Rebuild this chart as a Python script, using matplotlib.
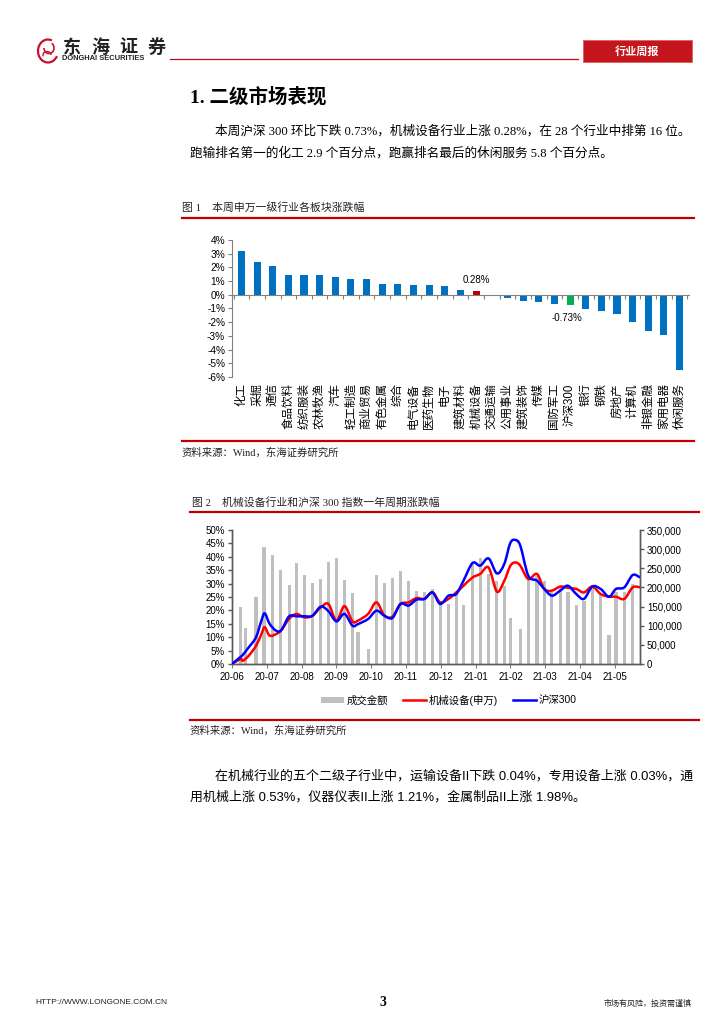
import numpy as np
import matplotlib
matplotlib.use('Agg')
import matplotlib.pyplot as plt
from matplotlib.path import Path
from matplotlib.patches import PathPatch, Rectangle, Arc, Patch
from matplotlib.lines import Line2D

# ---------------- data ----------------
industries = ['化工', '采掘', '通信', '食品饮料', '纺织服装', '农林牧渔', '汽车', '轻工制造',
              '商业贸易', '有色金属', '综合', '电气设备', '医药生物', '电子', '建筑材料',
              '机械设备', '交通运输', '公用事业', '建筑装饰', '传媒', '国防军工', '沪深300',
              '银行', '钢铁', '房地产', '计算机', '非银金融', '家用电器', '休闲服务']
weekly_change = [3.17, 2.40, 2.08, 1.48, 1.48, 1.43, 1.28, 1.16, 1.16, 0.82, 0.82, 0.70,
                 0.70, 0.63, 0.36, 0.28, -0.10, -0.22, -0.44, -0.56, -0.70, -0.73, -1.07,
                 -1.21, -1.43, -1.96, -2.67, -2.93, -5.52]

month_labels = ['20-06', '20-07', '20-08', '20-09', '20-10', '20-11', '20-12',
                '21-01', '21-02', '21-03', '21-04', '21-05']
# bar positions in months after 20-06
bar_x = [0.25, 0.39, 0.69, 0.92, 1.16, 1.40, 1.64, 1.85, 2.08, 2.31, 2.55, 2.77, 3.00,
         3.23, 3.46, 3.62, 3.91, 4.15, 4.38, 4.61, 4.84, 5.07, 5.30, 5.53, 5.76,
         5.98, 6.22, 6.44, 6.65, 6.91, 7.13, 7.37, 7.61, 7.82, 7.99, 8.28, 8.51, 8.76,
         8.97, 9.19, 9.43, 9.65, 9.89, 10.11, 10.35, 10.59, 10.83, 11.03, 11.27, 11.51]
turnover = [149000, 94000, 175000, 306000, 285000, 245000, 206000, 264000, 232000, 211000,
            222000, 266000, 277000, 219000, 185000, 84000, 39000, 232000, 211000, 224000,
            243000, 217000, 190000, 189000, 196000,
            157000, 158000, 182000, 154000, 263000, 276000, 235000, 217000, 203000, 119000,
            91000, 222000, 231000, 217000, 187000, 200000, 187000, 154000, 165000, 203000,
            182000, 77000, 189000, 187000, 210000]

line_x = [0.00, 0.25, 0.31, 0.48, 0.69, 0.84, 0.94, 1.08, 1.27, 1.42, 1.64, 1.85, 2.08,
          2.31, 2.55, 2.77, 3.00, 3.23, 3.46, 3.62, 3.91, 4.15, 4.38, 4.61, 4.84, 5.07,
          5.30, 5.53, 5.76,
          5.98, 6.22, 6.44, 6.65, 6.91, 7.13, 7.37, 7.61, 7.82, 7.99, 8.13, 8.28, 8.51,
          8.76, 8.97, 9.19, 9.43, 9.65, 9.89, 10.11, 10.35, 10.59, 10.83, 11.03, 11.27,
          11.51, 11.72]
machinery = [0.0, 1.9, 1.2, 3.1, 6.8, 11.0, 13.7, 10.6, 11.2, 12.7, 16.8, 18.7, 17.4,
             18.0, 21.1, 22.4, 16.2, 21.6, 15.9, 16.2, 18.7, 23.0, 18.0, 17.7, 22.4, 23.0,
             24.6, 24.3, 26.7,
             23.0, 24.3, 26.7, 29.2, 32.3, 33.6, 36.0, 27.0, 31.0, 36.5, 37.9, 36.7, 31.7,
             33.6, 28.0, 27.4, 28.9, 28.4, 28.0, 26.7, 28.9, 26.1, 25.1, 25.1, 24.3, 28.6,
             28.6]
hs300 = [0.0, 2.7, 3.4, 6.2, 10.0, 16.0, 18.9, 15.0, 12.4, 12.7, 17.8, 17.8, 17.8,
         18.0, 21.4, 19.7, 15.9, 18.7, 14.3, 14.9, 16.8, 19.9, 18.0, 17.2, 22.4, 21.8,
         24.0, 24.3, 26.7,
         22.4, 25.5, 26.1, 31.1, 37.7, 36.7, 39.4, 33.8, 37.3, 45.0, 46.3, 44.2, 33.0,
         31.1, 28.0, 25.5, 27.4, 29.2, 26.1, 24.3, 28.9, 28.0, 25.1, 28.0, 28.6, 33.2,
         32.3]

# ---------------- figure ----------------
W, H = 724, 1024
fig = plt.figure(figsize=(7.24, 10.24), dpi=100)
CJK = 'Noto Sans CJK SC'
SERIF_CJK = ['Liberation Serif', CJK]
SANS_CJK = ['Liberation Sans', CJK]
RED = '#C00000'


def fx(x):
    return x / W


def fy(y):
    return 1 - y / H


def ftext(x, y, s, **kw):
    kw.setdefault('va', 'center')
    return fig.text(fx(x), fy(y), s, **kw)


def fline(x0, x1, y, color=RED, lw=1.5):
    fig.add_artist(Line2D([fx(x0), fx(x1)], [fy(y), fy(y)], transform=fig.transFigure,
                          color=color, lw=lw))


# ---------------- header ----------------
logo = fig.add_axes([fx(36), fy(64), 24 / W, 28 / H])
logo.set_xlim(-1.2, 1.2)
logo.set_ylim(-1.4, 1.4)
logo.axis('off')
logo.add_patch(Arc((0, -0.1), 2.0, 2.3, theta1=70, theta2=330, color='#C8102E', lw=1.6))
logo.add_patch(Arc((0.1, 0.2), 1.0, 1.1, theta1=180, theta2=420, color='#C8102E', lw=1.2))
logo.add_patch(Arc((-0.1, -0.5), 0.8, 0.7, theta1=0, theta2=200, color='#C8102E', lw=1.0))

for i, ch in enumerate('东海证券'):
    ftext(72 + i * 28, 47, ch, family=CJK, fontsize=13, fontweight='bold',
          color='#222222', ha='center')
ftext(62, 59, 'DONGHAI SECURITIES', family='Liberation Sans', fontsize=5.4,
      fontweight='bold', color='#222222', ha='left')
fline(170, 578, 59, color='#B01020', lw=0.9)
fig.add_artist(Rectangle((fx(583), fy(62)), 109 / W, 22 / H, transform=fig.transFigure,
                         facecolor='#C4161C', edgecolor='#E06060', lw=0.6))
ftext(637.5, 51, '行业周报', family=CJK, fontsize=8, fontweight='bold', color='white',
      ha='center')

# ---------------- title & paragraph 1 ----------------
ftext(190, 97, '1. 二级市场表现', family=SERIF_CJK, fontsize=14, fontweight='bold',
      ha='left')


def fitted_lines(x1, y1, s1, x2, y2, s2, right, family, base=9):
    t1 = ftext(x1, y1, s1, family=family, fontsize=base, ha='left')
    fig.canvas.draw()
    w = t1.get_window_extent().width
    size = base * (right - x1) / w
    t1.set_fontsize(size)
    ftext(x2, y2, s2, family=family, fontsize=size, ha='left')


fitted_lines(215, 131, '本周沪深 300 环比下跌 0.73%，机械设备行业上涨 0.28%，在 28 个行业中排第 16 位。',
             190, 153, '跑输排名第一的化工 2.9 个百分点，跑赢排名最后的休闲服务 5.8 个百分点。',
             692, SERIF_CJK)

# ---------------- chart 1 ----------------
ftext(182, 208, '图 1    本周申万一级行业各板块涨跌幅', family=SERIF_CJK, fontsize=7.8,
      ha='left', color='#222222')
fline(182, 694, 218, lw=1.6)

ax1 = fig.add_axes([fx(232), fy(377), (689 - 232) / W, (377 - 240) / H])
colors = ['#0070C0'] * len(industries)
colors[industries.index('机械设备')] = RED
colors[industries.index('沪深300')] = '#00B050'
xs = np.arange(len(industries))
ax1.bar(xs, weekly_change, width=0.45, color=colors, zorder=2)
ax1.set_xlim(-0.6, len(industries) - 0.4)
ax1.set_ylim(-6, 4)
ax1.set_yticks(range(-6, 5))
ax1.set_yticklabels([f'{v}%' for v in range(-6, 5)], family='Liberation Sans', fontsize=7.3)
for s in ['top', 'right']:
    ax1.spines[s].set_visible(False)
ax1.spines['bottom'].set_position(('data', 0))
ax1.spines['left'].set_color('#808080')
ax1.spines['bottom'].set_color('#808080')
ax1.spines['left'].set_linewidth(0.8)
ax1.spines['bottom'].set_linewidth(0.8)
ax1.tick_params(axis='y', direction='out', length=3, width=0.8, color='#808080', pad=2)
ax1.set_xticks([])
ax1.set_xticks(np.arange(-0.5, len(industries), 1.0), minor=True)
ax1.tick_params(axis='x', which='minor', direction='out', length=3, width=0.8,
                color='#808080', labelbottom=False)
ax1.set_facecolor('none')
for i, name in enumerate(industries):
    ax1.text(i, -0.045, name, transform=ax1.get_xaxis_transform(), rotation=90,
             ha='center', va='top', fontsize=8.3, family=SANS_CJK)
mi = industries.index('机械设备')
ax1.annotate(f'{weekly_change[mi]:.2f}%', (mi, weekly_change[mi]), xytext=(0, 4.5),
             textcoords='offset points', ha='center', va='bottom', fontsize=7,
             family='Liberation Sans')
hi = industries.index('沪深300')
ax1.annotate(f'{weekly_change[hi]:.2f}%', (hi, weekly_change[hi]), xytext=(-2, -6),
             textcoords='offset points', ha='center', va='top', fontsize=7,
             family='Liberation Sans')

fline(182, 694, 441, lw=1.6)
ftext(182, 453, '资料来源：Wind，东海证券研究所', family=SERIF_CJK, fontsize=7.5, ha='left',
      color='#222222')

# ---------------- chart 2 ----------------
ftext(192, 502, '图 2    机械设备行业和沪深 300 指数一年周期涨跌幅', family=SERIF_CJK,
      fontsize=7.8, ha='left', color='#222222')
fline(190, 699, 512, lw=1.6)

ax_b = fig.add_axes([fx(232), fy(664), (640 - 232) / W, (664 - 530) / H])
ax_b.bar(bar_x, turnover, width=0.09, color='#BFBFBF', zorder=1)
ax_b.set_xlim(0, 11.72)
ax_b.set_ylim(0, 350000)
ax_b.set_yticks(range(0, 350001, 50000))
ax_b.set_yticklabels([f'{v:,}' for v in range(0, 350001, 50000)],
                     family='Liberation Sans', fontsize=7)
ax_b.set_xticks(range(len(month_labels)))
ax_b.set_xticklabels(month_labels, family='Liberation Sans', fontsize=7)
ax_b.tick_params(axis='x', direction='out', length=3, width=0.8, color='#808080', pad=3)

ax_l = ax_b.twinx()
ax_l.set_ylim(0, 50)
ax_l.set_yticks(range(0, 51, 5))
ax_l.set_yticklabels([f'{v}%' for v in range(0, 51, 5)], family='Liberation Sans',
                     fontsize=7)
ax_l.yaxis.tick_left()
ax_b.yaxis.tick_right()
for a in (ax_b, ax_l):
    a.spines['top'].set_visible(False)
    for s in ['left', 'right', 'bottom']:
        a.spines[s].set_color('#595959')
        a.spines[s].set_linewidth(1.0)
    a.tick_params(axis='y', direction='out', length=3, width=1.0, color='#595959', pad=2)


def smooth_path(xv, yv):
    pts = np.column_stack([xv, yv]).astype(float)
    n = len(pts)
    verts = [pts[0]]
    codes = [Path.MOVETO]
    for i in range(n - 1):
        p0 = pts[i - 1] if i > 0 else pts[i]
        p1 = pts[i]
        p2 = pts[i + 1]
        p3 = pts[i + 2] if i + 2 < n else pts[i + 1]
        verts += [p1 + (p2 - p0) / 6, p2 - (p3 - p1) / 6, p2]
        codes += [Path.CURVE4] * 3
    return Path(verts, codes)


ax_l.add_patch(PathPatch(smooth_path(line_x, machinery), facecolor='none',
                         edgecolor='#FF0000', lw=1.8, zorder=3))
ax_l.add_patch(PathPatch(smooth_path(line_x, hs300), facecolor='none',
                         edgecolor='#0000FF', lw=1.8, zorder=4))

handles = [Patch(facecolor='#BFBFBF', edgecolor='none'),
           Line2D([], [], color='#FF0000', lw=1.8),
           Line2D([], [], color='#0000FF', lw=1.8)]
fig.legend(handles, ['成交金额', '机械设备(申万)', '沪深300'], loc='center',
           bbox_to_anchor=(fx(449), fy(700)), ncol=3, frameon=False,
           prop={'family': SANS_CJK, 'size': 7.5}, handlelength=2.2, handleheight=0.6,
           handletextpad=0.3, columnspacing=1.4)

fline(190, 699, 720, lw=1.6)
ftext(190, 731, '资料来源：Wind，东海证券研究所', family=SERIF_CJK, fontsize=7.5, ha='left',
      color='#222222')

# ---------------- paragraph 2 ----------------
fitted_lines(215, 776, '在机械行业的五个二级子行业中，运输设备II下跌 0.04%，专用设备上涨 0.03%，通',
             190, 797, '用机械上涨 0.53%，仪器仪表II上涨 1.21%，金属制品II上涨 1.98%。',
             692, SANS_CJK)

# ---------------- footer ----------------
ftext(35, 1003, 'HTTP://WWW.LONGONE.COM.CN', family='Liberation Sans', fontsize=6,
      ha='left', color='#222222')
ftext(383, 1002, '3', family='Liberation Serif', fontsize=10, fontweight='bold',
      ha='center')
ftext(692, 1003, '市场有风险，投资需谨慎', family=CJK, fontsize=5.8, ha='right',
      color='#222222')

fig.savefig('out.png', dpi=100)
